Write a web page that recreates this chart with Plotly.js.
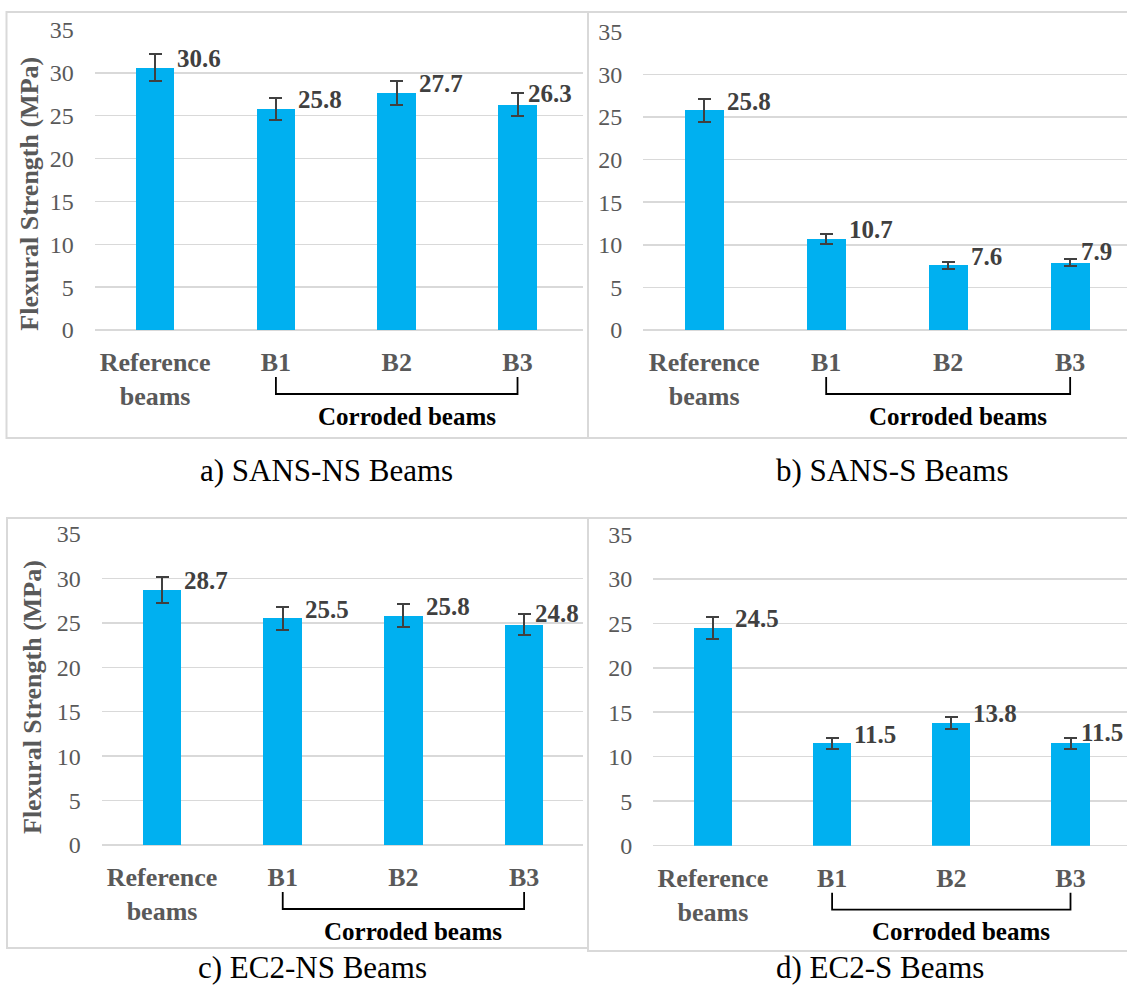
<!DOCTYPE html>
<html>
<head>
<meta charset="utf-8">
<script src="https://cdn.plot.ly/plotly-3.0.1.min.js"></script>
<style>
  html, body { margin: 0; padding: 0; background: #ffffff; }
  #chart { width: 1127px; height: 988px; }
</style>
</head>
<body>
<div id="chart"></div>
<script>
// Flexural strength (MPa) of reference and corroded beams, mean and error
const categories = ['Reference<br>beams', 'B1', 'B2', 'B3'];

const sansNsStrength = [30.6, 25.8, 27.7, 26.3];
const sansNsError    = [1.55, 1.25, 1.4, 1.3];

const sansSStrength  = [25.8, 10.7, 7.6, 7.9];
const sansSError     = [1.35, 0.6, 0.43, 0.43];

const ec2NsStrength  = [28.7, 25.5, 25.8, 24.8];
const ec2NsError     = [1.42, 1.28, 1.3, 1.22];

const ec2SStrength   = [24.5, 11.5, 13.8, 11.5];
const ec2SError      = [1.25, 0.58, 0.71, 0.58];

const captions = ['a) SANS-NS Beams', 'b) SANS-S Beams', 'c) EC2-NS Beams', 'd) EC2-S Beams'];
const groupLabel = 'Corroded beams';
const yTitleText = 'Flexural Strength (MPa)';

// Page geometry (pixels)
const W = 1127, H = 988;
const SERIF = '"Liberation Serif", "Times New Roman", serif';
const BAR_COLOR = '#00B0F0';
const GRID_COLOR = '#D9D9D9';
const TICK_COLOR = '#595959';
const LABEL_COLOR = '#404040';
const BAR_WIDTH = 0.32;
const CAP_HALF = 6.5;

// Panel frames: plot [left, right, top, bottom], category range end, outer box, caption centre, y-title centre
const panels = [
  { values: sansNsStrength, errors: sansNsError, caption: captions[0],
    plot: [94.7, 583, 30, 330], xmax: 3.542, box: [6.5, 588, 12, 438], cap: [326, 470], ytitle: [28.7, 194] },
  { values: sansSStrength, errors: sansSError, caption: captions[1],
    plot: [643.2, 1127, 31.7, 330], xmax: 3.466, box: [588, 1130, 12, 438], cap: [892, 470], ytitle: null },
  { values: ec2NsStrength, errors: ec2NsError, caption: captions[2],
    plot: [101.7, 583, 534, 845], xmax: 3.488, box: [7, 588, 518, 948], cap: [312, 967], ytitle: [32, 697] },
  { values: ec2SStrength, errors: ec2SError, caption: captions[3],
    plot: [653.3, 1127, 534.3, 845.7], xmax: 3.474, box: [588, 1130, 518, 951], cap: [880, 967], ytitle: null }
];

const px2x = p => p / W;
const py2y = p => 1 - p / H;

const data = [];
const layout = {
  width: W, height: H,
  margin: { l: 0, r: 0, t: 0, b: 0 },
  paper_bgcolor: '#ffffff',
  plot_bgcolor: 'rgba(0,0,0,0)',
  showlegend: false,
  bargap: 0,
  font: { family: SERIF, color: TICK_COLOR },
  shapes: [],
  annotations: []
};

panels.forEach((p, i) => {
  const n = i === 0 ? '' : String(i + 1);
  const xa = 'x' + n, ya = 'y' + n;
  const [left, right, top, bottom] = p.plot;
  const xIdx = categories.map((_, k) => k);
  const last = xIdx.length - 1;

  data.push({
    type: 'bar',
    x: xIdx,
    y: p.values,
    width: BAR_WIDTH,
    marker: { color: BAR_COLOR, line: { width: 0 } },
    error_y: { type: 'data', array: p.errors, visible: true, color: LABEL_COLOR, thickness: 2, width: CAP_HALF },
    xaxis: xa, yaxis: ya,
    hoverinfo: 'skip'
  });

  layout['xaxis' + n] = {
    domain: [px2x(left), px2x(right)],
    anchor: ya,
    range: [-0.5, p.xmax],
    tickmode: 'array',
    tickvals: xIdx,
    ticktext: categories,
    ticks: '',
    ticklabelstandoff: 14,
    tickfont: { family: SERIF, size: 26, color: TICK_COLOR, weight: 'bold' },
    showgrid: false, zeroline: false, showline: false,
    fixedrange: true
  };
  layout['yaxis' + n] = {
    domain: [py2y(bottom), py2y(top)],
    anchor: xa,
    range: [0, 35],
    tick0: 0, dtick: 5,
    ticks: '',
    ticklabelstandoff: 20,
    tickfont: { family: SERIF, size: 24, color: TICK_COLOR },
    showgrid: true, gridcolor: GRID_COLOR, gridwidth: 1.5,
    zeroline: true, zerolinecolor: GRID_COLOR, zerolinewidth: 1.5,
    showline: false,
    fixedrange: true
  };

  // value labels beside the bar tops; the last one sits just past its error cap
  p.values.forEach((v, k) => {
    const atEdge = k === last;
    layout.annotations.push({
      xref: xa, yref: ya,
      x: atEdge ? k : k + BAR_WIDTH / 2, y: v,
      xanchor: 'left', yanchor: 'middle',
      xshift: atEdge ? CAP_HALF + 2 : 1, yshift: atEdge ? 11 : 9,
      text: v.toFixed(1),
      showarrow: false,
      font: { family: SERIF, size: 25, color: LABEL_COLOR, weight: 'bold' }
    });
  });

  // bracket grouping the corroded beams
  const toPx = v => left + (v + 0.5) / (p.xmax + 0.5) * (right - left);
  const bx1 = toPx(1), bx3 = toPx(3);
  const bTop = bottom + 47, bBot = bottom + 64;
  layout.shapes.push({
    type: 'path', xref: 'paper', yref: 'paper',
    path: 'M ' + px2x(bx1) + ',' + py2y(bTop) + ' L ' + px2x(bx1) + ',' + py2y(bBot) +
          ' L ' + px2x(bx3) + ',' + py2y(bBot) + ' L ' + px2x(bx3) + ',' + py2y(bTop),
    line: { color: '#000000', width: 1.8 }
  });
  layout.annotations.push({
    xref: xa, yref: 'paper',
    x: 2, y: py2y(bottom + 86),
    xshift: 10,
    xanchor: 'center', yanchor: 'middle',
    text: groupLabel,
    showarrow: false,
    font: { family: SERIF, size: 25, color: '#000000', weight: 'bold' }
  });

  // panel frame
  const [bl, br, bt, bb] = p.box;
  layout.shapes.push({
    type: 'rect', xref: 'paper', yref: 'paper',
    x0: px2x(bl), x1: px2x(br), y0: py2y(bb), y1: py2y(bt),
    line: { color: GRID_COLOR, width: 2 },
    fillcolor: 'rgba(0,0,0,0)',
    layer: 'below'
  });

  // caption under the panel
  layout.annotations.push({
    xref: 'paper', yref: 'paper',
    x: px2x(p.cap[0]), y: py2y(p.cap[1]),
    xanchor: 'center', yanchor: 'middle',
    text: p.caption,
    showarrow: false,
    font: { family: SERIF, size: 31, color: '#000000' }
  });

  // vertical axis title on the left-hand panels
  if (p.ytitle) {
    layout.annotations.push({
      xref: 'paper', yref: 'paper',
      x: px2x(p.ytitle[0]), y: py2y(p.ytitle[1]),
      xanchor: 'center', yanchor: 'middle',
      textangle: -90,
      text: yTitleText,
      showarrow: false,
      font: { family: SERIF, size: 26, color: TICK_COLOR, weight: 'bold' }
    });
  }
});

Plotly.newPlot('chart', data, layout, { staticPlot: true, displayModeBar: false });
</script>
</body>
</html>
